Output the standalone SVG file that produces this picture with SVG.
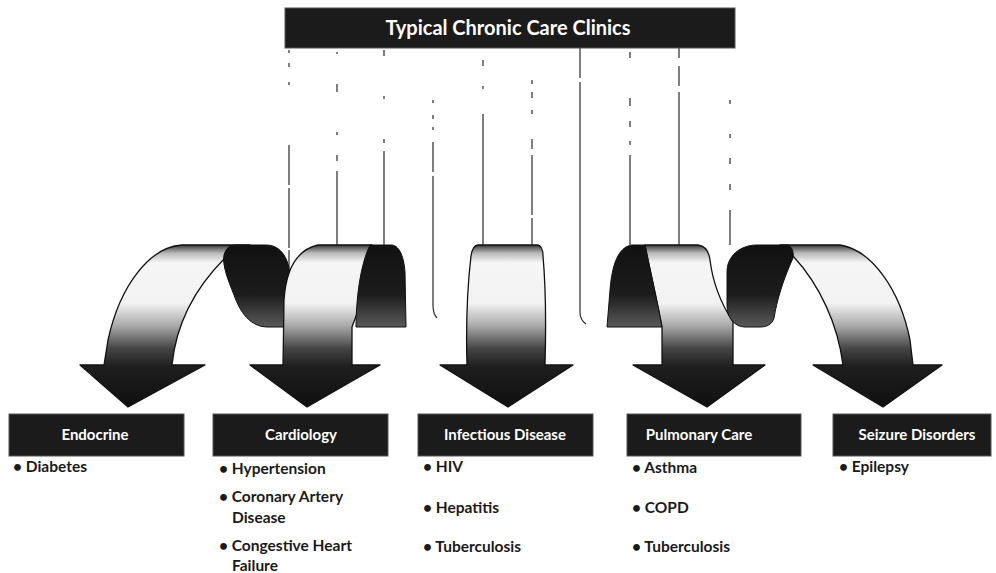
<svg xmlns="http://www.w3.org/2000/svg" width="996" height="573" viewBox="0 0 996 573">
<style>
.box{fill:#1b1b1b;stroke:#555;stroke-width:1}
.hdr{font-family:Lato,"Open Sans","Liberation Sans",sans-serif;font-weight:bold;font-size:20px;fill:#fff;text-anchor:middle}
.lbl{font-family:Lato,"Open Sans","Liberation Sans",sans-serif;font-weight:bold;font-size:15px;fill:#fff;text-anchor:middle}
.itm{font-family:Lato,"Open Sans","Liberation Sans",sans-serif;font-weight:bold;font-size:15.5px;fill:#1a1a1a}
.face{fill:url(#gFace);stroke:#111;stroke-width:1.3;stroke-linejoin:round}
.fold{fill:url(#gFold);stroke:#111;stroke-width:1}
.vl{stroke:#2a2a2a;stroke-width:1.2;fill:none}
</style>
<defs>
<linearGradient id="gFace" gradientUnits="userSpaceOnUse" x1="0" y1="245" x2="0" y2="407">
<stop offset="0" stop-color="#3a3a3a"/>
<stop offset="0.05" stop-color="#b8b8b8"/>
<stop offset="0.11" stop-color="#f6f6f6"/>
<stop offset="0.36" stop-color="#f2f2f2"/>
<stop offset="0.5" stop-color="#a8a8a8"/>
<stop offset="0.64" stop-color="#444"/>
<stop offset="0.75" stop-color="#1e1e1e"/>
<stop offset="1" stop-color="#101010"/>
</linearGradient>
<linearGradient id="gFold" gradientUnits="userSpaceOnUse" x1="0" y1="245" x2="0" y2="327">
<stop offset="0" stop-color="#111"/>
<stop offset="0.6" stop-color="#1c1c1c"/>
<stop offset="1" stop-color="#5a5a5a"/>
</linearGradient>
</defs>

<g id="connectors">
<path class="vl" d="M289,50 V330" stroke-dasharray="3 10 4 15 3 60 40 3 60 2 200"/>
<path class="vl" d="M337,52 V245" stroke-dasharray="2 30 8 40 3 20 6 10 300"/>
<path class="vl" d="M384,50 V245" stroke-dasharray="6 40 3 40 4 8 300"/>
<path class="vl" d="M433,100 V305 Q433,314 437,318" stroke-dasharray="3 12 4 8 3 12 30 4 400"/>
<path class="vl" d="M483,60 V245" stroke-dasharray="6 20 3 25 400"/>
<path class="vl" d="M532,80 V245" stroke-dasharray="4 8 6 12 4 25 10 6 60 3 200"/>
<path class="vl" d="M580,48 V312 Q580,320 586,324" stroke-dasharray="30 4 400"/>
<path class="vl" d="M630,52 V245" stroke-dasharray="6 40 8 15 6 14 4 10 300"/>
<path class="vl" d="M679,48 V245" stroke-dasharray="10 8 20 6 300"/>
<path class="vl" d="M730,100 V245" stroke-dasharray="4 30 4 20 6 20 6 20 200"/>

<g id="arrow-endocrine">
<path class="face" d="M250,245 L182,245 C150,247 120,285 108,340 L104,365 L80,365 L128,407 L205,365 L172,365 C176,325 195,288 225,258 L232,250 Z"/>
<path class="fold" d="M236,245 L266,245 C282,245 290,260 290,280 L290,327 L268,327 C250,327 240,312 234,295 C228,280 222,265 224,255 C226,248 230,245 236,245 Z"/>
</g>
<g id="arrow-cardiology">
<path class="face" d="M318,245 L372,245 L362,300 L352,327 L352,365 L380,365 L307,407 L250,365 L283,365 L284,300 C286,270 296,250 318,245 Z"/>
<path class="fold" d="M370,245 L392,245 C400,246 404,258 405,272 L406,327 L356,327 C356,300 360,265 370,245 Z"/>
</g>
<g id="arrow-infectious">
<path class="face" d="M478,245 L537,245 C541,245 543,250 543,256 C546,290 546,330 545,365 L573,365 L508,407 L440,365 L467,365 C466,330 467,290 471,256 C472,250 474,245 478,245 Z"/>
</g>
<g id="arrow-pulmonary">
<path class="face" d="M645,245 L698,245 C706,246 709,252 710,260 C713,285 722,305 733,322 L733,365 L765,365 L707,407 L633,365 L662,365 L662,327 C657,300 650,270 645,245 Z"/>
<path class="fold" d="M632,245 L645,245 C650,270 657,300 662,327 L607,327 L610,290 C612,265 618,247 632,245 Z"/>
</g>
<g id="arrow-seizure">
<path class="face" d="M780,245 L840,245 C872,250 900,290 910,340 L913,365 L942,365 L883,407 L813,365 L843,365 C838,325 820,285 793,256 Z"/>
<path class="fold" d="M757,245 L788,245 C792,247 794,252 793,258 C783,280 777,300 774,318 C772,325 766,327 760,327 L745,327 C735,327 727,318 727,305 L727,272 C727,256 740,245 757,245 Z"/>
</g>
</g>

<g id="header">
<rect class="box" x="285" y="8" width="450" height="40"/>
<text class="hdr" x="508" y="35">Typical Chronic Care Clinics</text>
</g>

<g id="endocrine">
<rect class="box" x="9" y="414" width="175" height="42"/>
<text class="lbl" x="95" y="440">Endocrine</text>
<text class="itm" x="13" y="472">• Diabetes</text>
</g>

<g id="cardiology">
<rect class="box" x="213" y="414" width="175" height="42"/>
<text class="lbl" x="301" y="440">Cardiology</text>
<text class="itm" x="219" y="474">• Hypertension</text>
<text class="itm" x="219" y="502">• Coronary Artery</text>
<text class="itm" x="232" y="523">Disease</text>
<text class="itm" x="219" y="551">• Congestive Heart</text>
<text class="itm" x="232" y="571">Failure</text>
</g>

<g id="infectious">
<rect class="box" x="418" y="414" width="175" height="42"/>
<text class="lbl" x="505" y="440">Infectious Disease</text>
<text class="itm" x="423" y="472">• HIV</text>
<text class="itm" x="423" y="513">• Hepatitis</text>
<text class="itm" x="423" y="552">• Tuberculosis</text>
</g>

<g id="pulmonary">
<rect class="box" x="627" y="414" width="174" height="42"/>
<text class="lbl" x="699" y="440">Pulmonary Care</text>
<text class="itm" x="632" y="473">• Asthma</text>
<text class="itm" x="632" y="513">• COPD</text>
<text class="itm" x="632" y="552">• Tuberculosis</text>
</g>

<g id="seizure">
<rect class="box" x="833" y="414" width="158" height="42"/>
<text class="lbl" x="917" y="440">Seizure Disorders</text>
<text class="itm" x="839" y="472">• Epilepsy</text>
</g>
</svg>
